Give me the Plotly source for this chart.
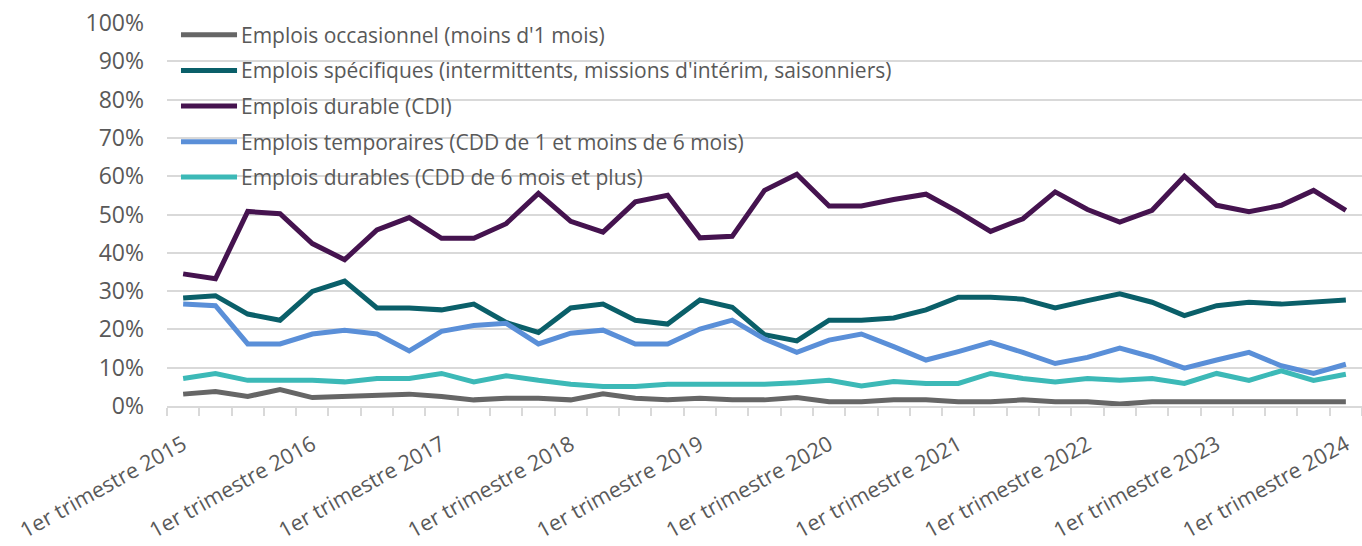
import plotly.graph_objects as go

quarters = [
    "T1 2015", "T2 2015", "T3 2015", "T4 2015",
    "T1 2016", "T2 2016", "T3 2016", "T4 2016",
    "T1 2017", "T2 2017", "T3 2017", "T4 2017",
    "T1 2018", "T2 2018", "T3 2018", "T4 2018",
    "T1 2019", "T2 2019", "T3 2019", "T4 2019",
    "T1 2020", "T2 2020", "T3 2020", "T4 2020",
    "T1 2021", "T2 2021", "T3 2021", "T4 2021",
    "T1 2022", "T2 2022", "T3 2022", "T4 2022",
    "T1 2023", "T2 2023", "T3 2023", "T4 2023",
    "T1 2024",
]
tick_labels = [
    "1er trimestre 2015", "", "", "",
    "1er trimestre 2016", "", "", "",
    "1er trimestre 2017", "", "", "",
    "1er trimestre 2018", "", "", "",
    "1er trimestre 2019", "", "", "",
    "1er trimestre 2020", "", "", "",
    "1er trimestre 2021", "", "", "",
    "1er trimestre 2022", "", "", "",
    "1er trimestre 2023", "", "", "",
    "1er trimestre 2024",
]

occasionnel = [3.1, 3.8, 2.5, 4.3, 2.2, 2.5, 2.5, 3.1, 2.5, 1.6, 2.0, 2.0, 1.6, 3.2, 2.0, 1.6,
               2.0, 1.6, 1.6, 2.2, 1.1, 1.1, 1.6, 1.6, 1.1, 1.1, 1.6, 1.1, 1.1, 0.5, 1.1, 1.1,
               1.1, 1.1, 1.1, 1.1, 1.1]
specifiques = [28.2, 28.8, 24.0, 22.4, 29.9, 32.6, 25.6, 25.6, 25.1, 26.6, 21.8, 19.2, 25.6, 26.6,
               22.4, 21.4, 27.7, 25.8, 18.6, 17.0, 22.4, 22.4, 23.0, 25.1, 28.4, 28.4, 27.9, 25.6,
               27.5, 29.3, 27.1, 23.6, 26.2, 27.1, 26.6, 27.1, 27.7]
cdi = [34.5, 33.2, 50.8, 50.2, 42.4, 38.2, 46.0, 49.2, 43.8, 43.8, 47.6, 55.5, 48.2, 45.4, 53.3,
       55.0, 43.9, 44.3, 56.3, 60.5, 52.2, 52.2, 53.9, 55.3, 50.7, 45.6, 48.9, 55.9, 51.3, 48.0,
       51.1, 60.0, 52.4, 50.7, 52.4, 56.3, 51.1]
temporaires = [26.6, 26.2, 16.2, 16.2, 18.8, 19.8, 18.8, 14.4, 19.5, 21.0, 21.6, 16.2, 19.0, 19.8,
               16.2, 16.2, 20.1, 22.4, 17.5, 14.0, 17.2, 18.8, 15.5, 12.0, 14.2, 16.6, 14.0, 11.1,
               12.7, 15.1, 12.8, 9.9, 12.0, 14.0, 10.5, 8.5, 10.9]
cdd_longs = [7.2, 8.5, 6.7, 6.7, 6.7, 6.3, 7.2, 7.2, 8.5, 6.3, 7.9, 6.7, 5.7, 5.1, 5.1, 5.7,
             5.7, 5.7, 5.7, 6.1, 6.7, 5.2, 6.4, 5.9, 5.9, 8.5, 7.2, 6.3, 7.2, 6.7, 7.2, 5.9,
             8.5, 6.7, 9.2, 6.7, 8.3]

series_names = [
    "Emplois occasionnel (moins d'1 mois)",
    "Emplois spécifiques (intermittents, missions d'intérim, saisonniers)",
    "Emplois durable (CDI)",
    "Emplois temporaires (CDD de 1 et moins de 6 mois)",
    "Emplois durables (CDD de 6 mois et plus)",
]
series_values = [occasionnel, specifiques, cdi, temporaires, cdd_longs]
series_colors = ["#666666", "#0A5F69", "#45134F", "#5A8FD8", "#3CB9B7"]

FONT = "Open Sans"
GREY = "#595959"
GRID = "#D9D9D9"
LINE_W = 5

fig = go.Figure()
for name, vals, col in zip(series_names, series_values, series_colors):
    fig.add_trace(go.Scatter(
        x=quarters, y=vals, name=name, mode="lines",
        line=dict(color=col, width=LINE_W),
        showlegend=False,
    ))

# Custom legend (inside plot, top-left), in paper coordinates
legend_y = [0.969, 0.876, 0.783, 0.690, 0.598]
for name, col, ly in zip(series_names, series_colors, legend_y):
    fig.add_shape(type="line", xref="paper", yref="paper",
                  x0=0.0117, x1=0.0586, y0=ly, y1=ly,
                  line=dict(color=col, width=LINE_W), layer="above")
    fig.add_annotation(xref="paper", yref="paper", x=0.0605, y=ly,
                       xanchor="left", yanchor="middle", showarrow=False,
                       text=name, font=dict(family=FONT, size=21, color=GREY),
                       bgcolor="rgba(255,255,255,0)")

fig.update_layout(
    width=1362, height=546,
    margin=dict(l=167, r=0, t=23, b=140, autoexpand=False),
    paper_bgcolor="white", plot_bgcolor="white",
    font=dict(family=FONT, size=22, color=GREY),
    showlegend=False,
)
fig.update_xaxes(
    type="category",
    tickmode="array", tickvals=quarters, ticktext=tick_labels,
    tickson="boundaries",
    ticks="outside", ticklen=8, tickcolor=GRID, tickwidth=1.5,
    showline=True, linecolor=GRID, linewidth=1.5,
    showgrid=False,
    tickangle=-29,
    tickfont=dict(family=FONT, size=21.5, color=GREY),
    ticklabelstandoff=16,
    ticklabeloverflow="allow",
    range=[-0.5, 36.5],
    automargin=False,
)
fig.update_yaxes(
    range=[0, 100], dtick=10, ticksuffix="%",
    showgrid=True, gridcolor=GRID, gridwidth=1.5,
    zeroline=False, showline=False,
    tickfont=dict(family=FONT, size=23, color=GREY),
    ticklabelstandoff=22,
    ticklabeloverflow="allow",
    automargin=False,
)

# remove the default 8 px page margin so the figure fills the window exactly
fig.write_html("out.html", config={"displayModeBar": False},
               post_script="document.body.style.margin='0px';")
